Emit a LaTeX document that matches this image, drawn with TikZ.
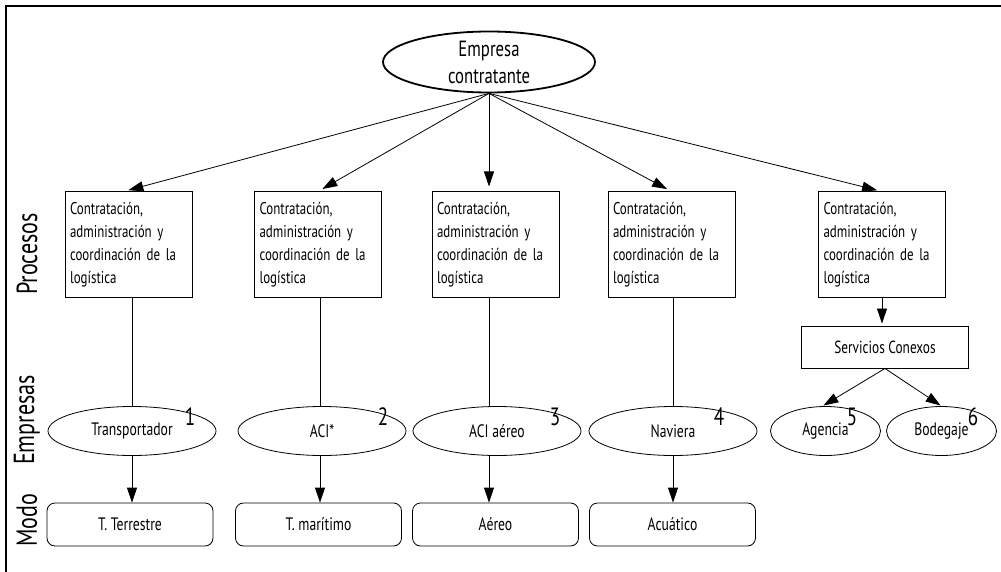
\documentclass[tikz,border=0pt]{standalone}
\usepackage{fontspec}
\setmainfont[FakeStretch=0.76]{PT Sans}
\usetikzlibrary{shapes.geometric,arrows.meta,calc}
\tikzset{
  proc/.style={draw, line width=1pt, minimum width=127pt, minimum height=105pt, text width=117pt, align=left, inner sep=5pt, font=\fontsize{17}{23}\selectfont},
  emp/.style={draw, ellipse, line width=0.8pt, minimum width=168pt, minimum height=49pt, inner sep=0pt, font=\fontsize{18}{18}\selectfont},
  smallemp/.style={emp, minimum width=110pt},
  modo/.style={draw, line width=0.8pt, rounded corners=8pt, minimum width=166pt, minimum height=43pt, inner sep=0pt, font=\fontsize{18}{18}\selectfont},
  serv/.style={draw, line width=0.9pt, minimum width=167pt, minimum height=42pt, inner sep=0pt, font=\fontsize{17.5}{18}\selectfont},
  num/.style={inner sep=0pt, font=\fontsize{25}{25}\selectfont},
  side/.style={rotate=90, inner sep=0pt, font=\fontsize{29}{29}\selectfont},
  arr/.style={-{Triangle[length=15pt,width=10pt]}, line width=0.8pt},
  conn/.style={line width=0.8pt}
}
\begin{document}
\begin{tikzpicture}[x=1pt,y=-1pt]
\useasboundingbox (0,0) rectangle (1001,572);
\draw[line width=1.6pt] (6,572) -- (6,6) -- (1001,6);

% top
\node[draw, ellipse, line width=1.8pt, minimum width=212pt, minimum height=61pt, inner sep=0pt, align=center, font=\fontsize{22}{27}\selectfont] (top) at (489,62) {Empresa\\contratante};

% side labels
\node[side] (lproc) at (27,254) {Procesos};
\node[side] (lemp) at (27,420) {Empresas};
\node[side] (lmodo) at (27,520) {Modo};

% process boxes
\node[proc] (p1) at (128.5,244.5) {Contratación,\\administración y\\coordinación de la\\logística};
\node[proc] (p2) at (318,244.5) {Contratación,\\administración y\\coordinación de la\\logística};
\node[proc] (p3) at (495.5,244.5) {Contratación,\\administración y\\coordinación de la\\logística};
\node[proc] (p4) at (671.5,244.5) {Contratación,\\administración y\\coordinación de la\\logística};
\node[proc] (p5) at (882,244.5) {Contratación,\\administración y\\coordinación de la\\logística};

% companies
\node[emp] (e1) at (132,431) {Transportador};
\node[emp] (e2) at (322,431) {ACI*};
\node[emp] (e3) at (497,431) {ACI aéreo};
\node[emp] (e4) at (673,431) {Naviera};
\node[serv] (s) at (885,347) {Servicios Conexos};
\node[smallemp] (a) at (825.5,431) {Agencia};
\node[smallemp] (b) at (941.5,431) {Bodegaje};

% numbers
\node[num] (n1) at (190,417) {1};
\node[num] (n2) at (383,417) {2};
\node[num] (n3) at (555,417) {3};
\node[num] (n4) at (719,417) {4};
\node[num] (n5) at (852,417) {5};
\node[num] (n6) at (973,417) {6};

% modes
\node[modo] (m1) at (130,524.5) {T. Terrestre};
\node[modo] (m2) at (318.5,524.5) {T. marítimo};
\node[modo] (m3) at (495.5,524.5) {Aéreo};
\node[modo] (m4) at (672.5,524.5) {Acuático};

% connectors top
\draw[arr, shorten >=5pt] (top.south) -- ($(p1.north)+(-5,0)$);
\draw[arr, shorten >=5pt] (top.south) -- (p2.north);
\draw[arr, shorten >=5pt] (top.south) -- (top.south |- p3.north);
\draw[arr, shorten >=5pt] (top.south) -- (p4.north);
\draw[arr, shorten >=5pt] (top.south) -- (p5.north);

% verticals
\draw[conn] (e1.north |- p1.south) -- (e1.north);
\draw[arr] (e1.south) -- (e1.south |- m1.north);
\draw[conn] ($(e2.north |- p2.south)+(-2,0)$) -- ($(e2.north)+(-2,0)$);
\draw[arr] ($(e2.south)+(-2,0)$) -- ($(e2.south |- m2.north)+(-2,0)$);
\draw[conn] (top.south |- p3.south) -- (top.south |- e3.north);
\draw[arr] (top.south |- e3.south) -- (top.south |- m3.north);
\draw[conn] (e4.north |- p4.south) -- (e4.north);
\draw[arr] (e4.south) -- (e4.south |- m4.north);

% services
\draw[arr, shorten >=2pt] (p5.south) -- (p5.south |- s.north);
\draw[arr, shorten >=1pt] (s.south) -- ($(a.north)+(-3,0)$);
\draw[arr, shorten >=1pt] (s.south) -- (b.north);
\end{tikzpicture}
\end{document}
